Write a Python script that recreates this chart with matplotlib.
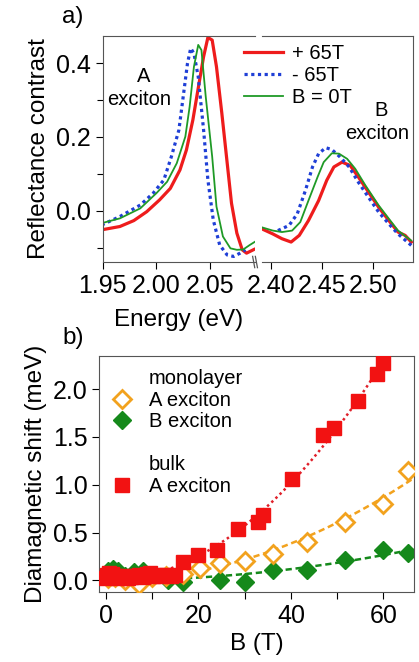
import numpy as np
import matplotlib
matplotlib.use("Agg")
import matplotlib.pyplot as plt
from matplotlib.lines import Line2D

plt.rcParams['font.family'] = ['Liberation Sans', 'DejaVu Sans']

# ---- panel a) reflectance spectra, A exciton region ----
eA_red = [1.949, 1.966, 1.979, 1.991, 2.003, 2.013, 2.022, 2.028, 2.034, 2.039, 2.044,
          2.048, 2.052, 2.056, 2.061, 2.066, 2.070, 2.075, 2.080, 2.084, 2.091]
rA_red = [-0.051, -0.042, -0.026, -0.002, 0.030, 0.061, 0.111, 0.165, 0.246, 0.332, 0.417,
          0.469, 0.462, 0.390, 0.264, 0.129, 0.021, -0.060, -0.105, -0.114, -0.104]
eA_blue = [1.949, 1.966, 1.985, 1.997, 2.007, 2.014, 2.021, 2.025, 2.029, 2.032, 2.035,
           2.039, 2.044, 2.048, 2.053, 2.059, 2.066, 2.072, 2.078, 2.083]
rA_blue = [-0.038, -0.015, 0.016, 0.048, 0.084, 0.147, 0.219, 0.309, 0.399, 0.440, 0.426,
           0.363, 0.219, 0.084, -0.024, -0.092, -0.119, -0.123, -0.114, -0.105]
eA_green = [1.949, 1.966, 1.985, 2.000, 2.010, 2.019, 2.027, 2.031, 2.035, 2.039, 2.042,
            2.046, 2.052, 2.056, 2.062, 2.069, 2.075, 2.081, 2.087, 2.092]
rA_green = [-0.033, -0.020, 0.007, 0.048, 0.079, 0.129, 0.201, 0.282, 0.390, 0.449, 0.435,
            0.309, 0.147, 0.012, -0.069, -0.101, -0.105, -0.104, -0.092, -0.083]

# ---- panel a) B exciton region ----
eB_red = [2.391, 2.402, 2.411, 2.420, 2.428, 2.437, 2.447, 2.455, 2.462, 2.470, 2.478,
          2.486, 2.496, 2.506, 2.516, 2.525, 2.532, 2.538]
rB_red = [-0.048, -0.062, -0.075, -0.084, -0.066, -0.026, 0.028, 0.083, 0.119, 0.132, 0.123,
          0.092, 0.051, 0.010, -0.026, -0.057, -0.066, -0.084]
eB_blue = [2.407, 2.418, 2.426, 2.434, 2.441, 2.447, 2.454, 2.460, 2.468, 2.477, 2.486,
           2.496, 2.506, 2.516, 2.525, 2.538]
rB_blue = [-0.053, -0.039, -0.008, 0.055, 0.119, 0.155, 0.171, 0.166, 0.146, 0.119, 0.078,
           0.037, -0.003, -0.035, -0.062, -0.093]
eB_green = [2.391, 2.402, 2.411, 2.421, 2.429, 2.437, 2.446, 2.452, 2.460, 2.467, 2.475,
            2.483, 2.493, 2.506, 2.516, 2.525, 2.538]
rB_green = [-0.044, -0.053, -0.057, -0.053, -0.030, 0.028, 0.092, 0.132, 0.156, 0.155, 0.141,
            0.114, 0.069, 0.015, -0.021, -0.053, -0.080]

spectra_labels = ['+ 65T', '- 65T', 'B = 0T']

# ---- panel b) diamagnetic shift ----
b_bulk = [0, 0.3, 0.6, 1.0, 1.4, 1.8, 2.2, 2.7, 3.2, 3.7, 4.2, 4.8, 5.5, 6.3, 7.2, 8.0, 8.8,
          9.5, 10.2, 11.0, 12.0, 13.0, 14.0, 15.0,
          16.6, 20.0, 23.9, 28.5, 32.8, 33.9, 40.2, 47.0, 49.4, 54.4, 58.7, 60.0]
s_bulk = [0.02, 0.06, 0.08, 0.04, 0.07, 0.03, 0.05, 0.02, 0.04, 0.03, 0.05, 0.02, 0.04, 0.05,
          0.06, 0.04, 0.07, 0.08, 0.05, 0.06, 0.05, 0.06, 0.05, 0.06,
          0.19, 0.27, 0.32, 0.54, 0.61, 0.68, 1.06, 1.52, 1.59, 1.87, 2.16, 2.27]
b_monoA = [0.5, 2.0, 4.0, 7.2, 10.0, 13.0, 16.6, 20.3, 24.7, 30.1, 36.2, 43.5, 51.6, 60.0, 65.4]
s_monoA = [0.02, 0.03, 0.00, -0.04, 0.03, 0.05, 0.07, 0.13, 0.18, 0.20, 0.28, 0.40, 0.61, 0.80, 1.14]
b_monoB = [0.5, 1.5, 2.5, 4.0, 6.0, 8.0, 10.0, 13.5, 16.6, 24.7, 30.1, 36.2, 43.5, 51.6, 60.0, 65.4]
s_monoB = [0.10, 0.12, 0.10, 0.05, 0.09, 0.10, 0.06, 0.00, -0.02, 0.00, -0.02, 0.11, 0.11, 0.21, 0.32, 0.29]

red = '#ee1c1c'
blue = '#1f3fd6'
green = '#1f9a26'
orange = '#f2a21e'
dgreen = '#15891b'

fig = plt.figure(figsize=(4.19, 6.62), dpi=100)
axL = fig.add_axes([0.2451, 0.6042, 0.3635, 0.3414])
axR = fig.add_axes([0.6253, 0.6042, 0.3611, 0.3414])

for ax, e_r, r_r, e_b, r_b, e_g, r_g in [
        (axL, eA_red, rA_red, eA_blue, rA_blue, eA_green, rA_green),
        (axR, eB_red, rB_red, eB_blue, rB_blue, eB_green, rB_green)]:
    ax.plot(e_r, r_r, color=red, lw=2.3, label=spectra_labels[0])
    ax.plot(e_b, r_b, color=blue, lw=2.3, ls=(0, (1, 1.1)), label=spectra_labels[1])
    ax.plot(e_g, r_g, color=green, lw=1.3, label=spectra_labels[2])
    ax.set_ylim(-0.138, 0.473)
    ax.tick_params(direction='out', labelsize=18, length=5, width=0.8)
    for s in ax.spines.values():
        s.set_color('#555555')

axL.set_xlim(1.95, 2.0919)
axR.set_xlim(2.3914, 2.540)
axL.set_xticks([1.95, 2.00, 2.05])
axL.set_xticklabels(['1.95', '2.00', '2.05'])
axR.set_xticks([2.40, 2.45, 2.50])
axR.set_xticklabels(['2.40', '2.45', '2.50'])
axL.set_yticks([0.0, 0.2, 0.4])
axL.set_yticks([-0.1, 0.1, 0.3], minor=True)
axL.tick_params(which='minor', direction='out', length=4, width=0.8)
axL.spines['right'].set_visible(False)
axR.spines['left'].set_visible(False)
axR.set_yticks([])
axL.set_ylabel('Reflectance contrast', fontsize=17.5, labelpad=4)

# break marks on the bottom axis
for x0 in [0.0, 0.018]:
    axR.plot([-0.062 + x0, -0.048 + x0], [0.025, -0.025], transform=axR.transAxes,
             color='#555555', lw=0.9, clip_on=False)

fig.text(0.425, 0.516, 'Energy (eV)', fontsize=17.5, ha='center', va='center')
axL.text(0.27, 0.82, 'A', fontsize=14.5, ha='center', va='center', transform=axL.transAxes)
axL.text(0.24, 0.72, 'exciton', fontsize=14.5, ha='center', va='center', transform=axL.transAxes)
axR.text(0.79, 0.67, 'B', fontsize=14.5, ha='center', va='center', transform=axR.transAxes)
axR.text(0.76, 0.57, 'exciton', fontsize=14.5, ha='center', va='center', transform=axR.transAxes)

h, l = axL.get_legend_handles_labels()
fig.legend(h, l, loc='upper left', bbox_to_anchor=(0.582, 0.934), frameon=False,
           fontsize=14.5, handlelength=1.95, handletextpad=0.45, labelspacing=0.15,
           borderpad=0, borderaxespad=0)

fig.text(0.148, 0.975, 'a)', fontsize=17.5, ha='left', va='center')
fig.text(0.148, 0.489, 'b)', fontsize=17.5, ha='left', va='center')

# ---- panel b) ----
axb = fig.add_axes([0.237, 0.1057, 0.752, 0.3565])
Bfit = np.linspace(0, 66.7, 200)
for b, s, c, ls, b0 in [(b_bulk, s_bulk, '#e0202a', (0, (1, 1.3)), 14),
                        (b_monoA, s_monoA, orange, (0, (2.5, 1.5)), 15),
                        (b_monoB, s_monoB, dgreen, (0, (2.5, 1.5)), 0)]:
    b = np.array(b)
    s = np.array(s)
    a = np.sum(s * b ** 2) / np.sum(b ** 4)
    bb = Bfit[(Bfit >= b0) & (Bfit <= b.max() + 1.5)]
    axb.plot(bb, a * bb ** 2, color=c, lw=1.8, ls=ls, zorder=1)

pB = axb.plot(b_monoB, s_monoB, ls='none', marker='D', ms=9, color=dgreen, mec=dgreen, zorder=2)[0]
pA = axb.plot(b_monoA, s_monoA, ls='none', marker='D', ms=9, mfc='white', mec=orange, mew=2,
              zorder=3)[0]
pbulk = axb.plot(b_bulk, s_bulk, ls='none', marker='s', ms=10.5, color='#f21212', zorder=4)[0]

axb.set_xlim(-1.45, 66.7)
axb.set_ylim(-0.122, 2.345)
axb.set_xticks([0, 20, 40, 60])
axb.set_xticks([10, 30, 50], minor=True)
axb.set_yticks([0.0, 0.5, 1.0, 1.5, 2.0])
axb.set_yticklabels(['0.0', '0.5', '1.0', '1.5', '2.0'])
axb.tick_params(which='both', direction='out', labelsize=18, length=5, width=0.8)
for s in axb.spines.values():
    s.set_color('#555555')
axb.set_xlabel('B (T)', fontsize=17.5, labelpad=4)
axb.set_ylabel('Diamagnetic shift (meV)', fontsize=17.5, labelpad=4)

blank = Line2D([], [], ls='none')
axb.legend([blank, pA, pB, blank, blank, pbulk],
           ['monolayer', 'A exciton', 'B exciton', '', 'bulk', 'A exciton'],
           loc='upper left', bbox_to_anchor=(0.04, 0.945), frameon=False, fontsize=14.5,
           handlelength=1.0, handletextpad=0.85, labelspacing=0.13, borderpad=0,
           borderaxespad=0)

fig.savefig('out.png', dpi=100)
